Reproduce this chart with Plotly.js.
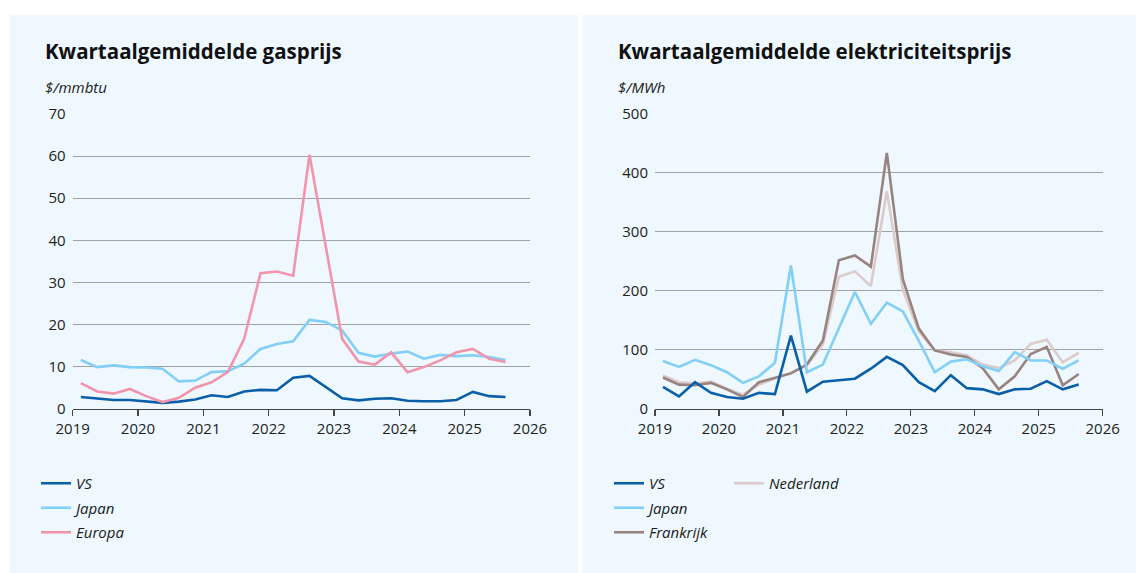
<!DOCTYPE html>
<html>
<head>
<meta charset="utf-8">
<script src="https://cdn.plot.ly/plotly-3.0.1.min.js"></script>
<style>
html,body{margin:0;padding:0;background:#fff;}
#chart{width:1136px;height:573px;}
</style>
</head>
<body>
<div id="chart"></div>
<script>
// Quarter midpoints (2019 Q1 .. 2025 Q3)
const quarters = [2019.125, 2019.375, 2019.625, 2019.875, 2020.125, 2020.375, 2020.625, 2020.875,
  2021.125, 2021.375, 2021.625, 2021.875, 2022.125, 2022.375, 2022.625, 2022.875,
  2023.125, 2023.375, 2023.625, 2023.875, 2024.125, 2024.375, 2024.625, 2024.875,
  2025.125, 2025.375, 2025.625];

// Gas prices ($/mmbtu)
const gasVS = [2.8, 2.4, 2.1, 2.1, 1.7, 1.4, 1.7, 2.2, 3.2, 2.8, 4.1, 4.5, 4.4, 7.4, 7.8, 5.1,
  2.5, 2.0, 2.4, 2.5, 1.9, 1.8, 1.8, 2.1, 4.0, 3.0, 2.8];
const gasJapan = [11.6, 9.9, 10.3, 9.9, 9.8, 9.5, 6.5, 6.7, 8.7, 8.9, 10.7, 14.2, 15.4, 16.0, 21.1, 20.6,
  18.6, 13.3, 12.4, 13.1, 13.6, 11.9, 12.8, 12.5, 12.7, 12.3, 11.6];
const gasEuropa = [6.1, 4.1, 3.6, 4.7, 3.0, 1.6, 2.6, 5.0, 6.3, 8.7, 16.6, 32.2, 32.6, 31.6, 60.3, 38.0,
  16.6, 11.2, 10.5, 13.4, 8.7, 9.9, 11.5, 13.4, 14.2, 11.9, 11.1];

// Electricity prices ($/MWh)
const elVS = [37, 21, 45, 27, 20, 17, 27, 25, 124, 29, 46, 48, 51, 68, 88, 74,
  45, 30, 57, 35, 33, 25, 33, 34, 47, 33, 41];
const elJapan = [81, 71, 83, 74, 62, 44, 55, 78, 243, 62, 75, 135, 198, 144, 180, 165,
  115, 62, 80, 84, 72, 64, 96, 82, 82, 68, 82];
const elFrankrijk = [53, 41, 40, 44, 33, 20, 45, 52, 60, 75, 116, 252, 260, 241, 434, 220,
  136, 99, 92, 88, 69, 33, 55, 93, 105, 40, 59];
const elNederland = [56, 45, 43, 46, 34, 24, 41, 51, 61, 74, 109, 224, 233, 208, 369, 202,
  131, 99, 96, 91, 75, 69, 82, 110, 117, 79, 95];

const yearTicks = [2019, 2020, 2021, 2022, 2023, 2024, 2025, 2026];
const gasTicks = [0, 10, 20, 30, 40, 50, 60, 70];
const elTicks = [0, 100, 200, 300, 400, 500];

const titles = ['Kwartaalgemiddelde gasprijs', 'Kwartaalgemiddelde elektriciteitsprijs'];
const units = ['$/mmbtu', '$/MWh'];

const cVS = '#0b5fa8', cJapan = '#82cff8', cEuropa = '#f294ac', cFr = '#978380', cNl = '#dccbca';
const W = 1136, H = 573;
const px = v => v / W, py = v => 1 - v / H;
const FONT = 'Open Sans';

const lw = 2.6;
const traces = [
  {x: quarters, y: gasVS, name: 'VS', xaxis: 'x', yaxis: 'y', line: {color: cVS, width: lw}, legend: 'legend', legendgroup: 'g1'},
  {x: quarters, y: gasJapan, name: 'Japan', xaxis: 'x', yaxis: 'y', line: {color: cJapan, width: lw}, legend: 'legend', legendgroup: 'g2'},
  {x: quarters, y: gasEuropa, name: 'Europa', xaxis: 'x', yaxis: 'y', line: {color: cEuropa, width: lw}, legend: 'legend', legendgroup: 'g3'},
  {x: quarters, y: elNederland, name: 'Nederland', xaxis: 'x2', yaxis: 'y2', line: {color: cNl, width: lw}, legend: 'legend3', legendgroup: 'e4'},
  {x: quarters, y: elFrankrijk, name: 'Frankrijk', xaxis: 'x2', yaxis: 'y2', line: {color: cFr, width: lw}, legend: 'legend2', legendrank: 3, legendgroup: 'e3'},
  {x: quarters, y: elJapan, name: 'Japan', xaxis: 'x2', yaxis: 'y2', line: {color: cJapan, width: lw}, legend: 'legend2', legendrank: 2, legendgroup: 'e2'},
  {x: quarters, y: elVS, name: 'VS', xaxis: 'x2', yaxis: 'y2', line: {color: cVS, width: lw}, legend: 'legend2', legendrank: 1, legendgroup: 'e1'}
].map(t => Object.assign({type: 'scatter', mode: 'lines', hoverinfo: 'skip'}, t));

const yDom = [py(408.8), py(113.3)];
const xBase = {
  range: [2019, 2026], tickvals: yearTicks, ticktext: yearTicks.map(String),
  showgrid: false, zeroline: false, showline: true, linecolor: '#444', linewidth: 1.2,
  ticks: 'outside', ticklen: 6, tickcolor: '#444', tickwidth: 1.2,
  tickfont: {family: FONT, size: 15, color: '#222'}, fixedrange: true
};
const yBase = {
  showgrid: true, gridcolor: '#9ea3a6', gridwidth: 1, zeroline: false, showline: false,
  ticks: '', tickfont: {family: FONT, size: 15, color: '#222'}, ticklabelstandoff: 6, fixedrange: true
};
const legBase = {
  orientation: 'v', xanchor: 'left', yanchor: 'top', bgcolor: 'rgba(0,0,0,0)',
  font: {family: FONT, size: 15, color: '#1a1a1a', style: 'italic'}, traceorder: 'grouped',
  tracegroupgap: 2, itemclick: false, itemdoubleclick: false
};

const layout = {
  width: W, height: H, margin: {l: 0, r: 0, t: 0, b: 0},
  paper_bgcolor: '#ffffff', plot_bgcolor: 'rgba(0,0,0,0)', showlegend: true,
  xaxis: Object.assign({}, xBase, {domain: [px(72.7), px(530)], anchor: 'y'}),
  yaxis: Object.assign({}, yBase, {domain: yDom, range: [0, 70.15], tickvals: gasTicks, anchor: 'x'}),
  xaxis2: Object.assign({}, xBase, {domain: [px(655), px(1102.7)], anchor: 'y2'}),
  yaxis2: Object.assign({}, yBase, {domain: yDom, range: [0, 501], tickvals: elTicks, anchor: 'x2'}),
  legend: Object.assign({}, legBase, {x: px(36), y: py(467)}),
  legend2: Object.assign({}, legBase, {x: px(609), y: py(467)}),
  legend3: Object.assign({}, legBase, {x: px(729), y: py(467)}),
  shapes: [
    {type: 'rect', xref: 'paper', yref: 'paper', x0: px(10), x1: px(578), y0: 0, y1: py(15), fillcolor: '#eef8fe', line: {width: 0}, layer: 'below'},
    {type: 'rect', xref: 'paper', yref: 'paper', x0: px(583), x1: 1, y0: 0, y1: py(15), fillcolor: '#eef8fe', line: {width: 0}, layer: 'below'}
  ],
  annotations: [
    {text: '<b>' + titles[0] + '</b>', xref: 'paper', yref: 'paper', x: px(43), y: py(51), xanchor: 'left', yanchor: 'middle', showarrow: false, font: {family: FONT, size: 20.5, color: '#111'}},
    {text: units[0], xref: 'paper', yref: 'paper', x: px(43), y: py(87), xanchor: 'left', yanchor: 'middle', showarrow: false, font: {family: FONT, size: 15, color: '#222', style: 'italic'}},
    {text: '<b>' + titles[1] + '</b>', xref: 'paper', yref: 'paper', x: px(616), y: py(51), xanchor: 'left', yanchor: 'middle', showarrow: false, font: {family: FONT, size: 20.5, color: '#111'}},
    {text: units[1], xref: 'paper', yref: 'paper', x: px(616), y: py(87), xanchor: 'left', yanchor: 'middle', showarrow: false, font: {family: FONT, size: 15, color: '#222', style: 'italic'}}
  ]
};

Plotly.newPlot('chart', traces, layout, {displayModeBar: false, staticPlot: true});
</script>
</body>
</html>
